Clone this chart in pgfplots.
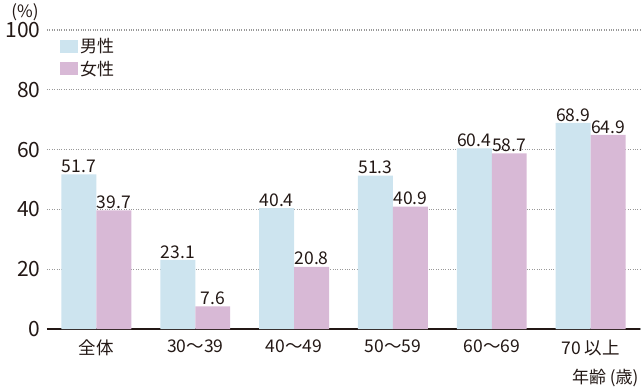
\documentclass[border=0pt]{standalone}
\usepackage{fontspec}
\setmainfont{Noto Sans CJK JP}
\usepackage{pgfplots}
\pgfplotsset{compat=1.18}
\definecolor{male}{HTML}{CDE4EF}
\definecolor{female}{HTML}{D8B9D6}
\definecolor{axisdark}{HTML}{231815}
\definecolor{txt}{HTML}{231815}
\begin{document}
\begin{tikzpicture}[x=1pt,y=1pt]
\useasboundingbox (-47,-60) rectangle (595,329);
\begin{axis}[
  at={(0,0)}, anchor=south west,
  scale only axis, width=593pt, height=299pt,
  xmin=-0.5, xmax=5.5, ymin=0, ymax=100,
  axis x line*=bottom, axis y line*=left,
  y axis line style={draw=none},
  x axis line style={line width=1.8pt, axisdark},
  ytick={0,20,40,60,80,100},
  ytick style={draw=none},
  xtick={0,1,2,3,4,5},
  xticklabels={全体,30～39,40～49,50～59,60～69,70 以上},
  xtick style={draw=none},
  extra x ticks={0.5,1.5,2.5,3.5,4.5,5.5},
  extra x tick labels={},
  extra x tick style={tick align=outside, major tick length=10pt, tick style={draw=axisdark, line width=1.6pt}},
  ymajorgrids,
  grid style={dotted, line width=1.2pt, black!40},
  /pgf/number format/assume math mode=true,
  yticklabel style={font=\fontsize{21}{24}\selectfont, text=txt, xshift=-3pt},
  xticklabel style={font=\fontsize{17.5}{20}\selectfont, text=txt, yshift=-3pt},
  ybar, bar width=0.354,
  nodes near coords,
  nodes near coords style={font=\fontsize{17.5}{21}\selectfont, text=txt, inner sep=1.5pt},
  every node near coord/.append style={/pgf/number format/.cd, fixed, fixed zerofill, precision=1},
  legend style={at={(rel axis cs:0,1)}, anchor=north west, xshift=10pt, yshift=-4pt,
    draw=none, fill=none, font=\fontsize{17}{20}\selectfont, text=txt, row sep=3pt},
  legend cell align=left,
  legend image code/.code={\fill[#1] (0pt,-6.5pt) rectangle (18pt,6.5pt);},
]
\addplot[fill=male, draw=none, bar shift=-0.177] coordinates {(0,51.7) (1,23.1) (2,40.4) (3,51.3) (4,60.4) (5,68.9)};
\addplot[fill=female, draw=none, bar shift=0.177] coordinates {(0,39.7) (1,7.6) (2,20.8) (3,40.9) (4,58.7) (5,64.9)};
\legend{男性,女性}
\end{axis}
\node[font=\fontsize{17}{20}\selectfont, text=txt] at (-22,317) {(\%)};
\node[font=\fontsize{17}{20}\selectfont, text=txt, anchor=east] at (595,-49) {年齢 (歳)};
\end{tikzpicture}
\end{document}
